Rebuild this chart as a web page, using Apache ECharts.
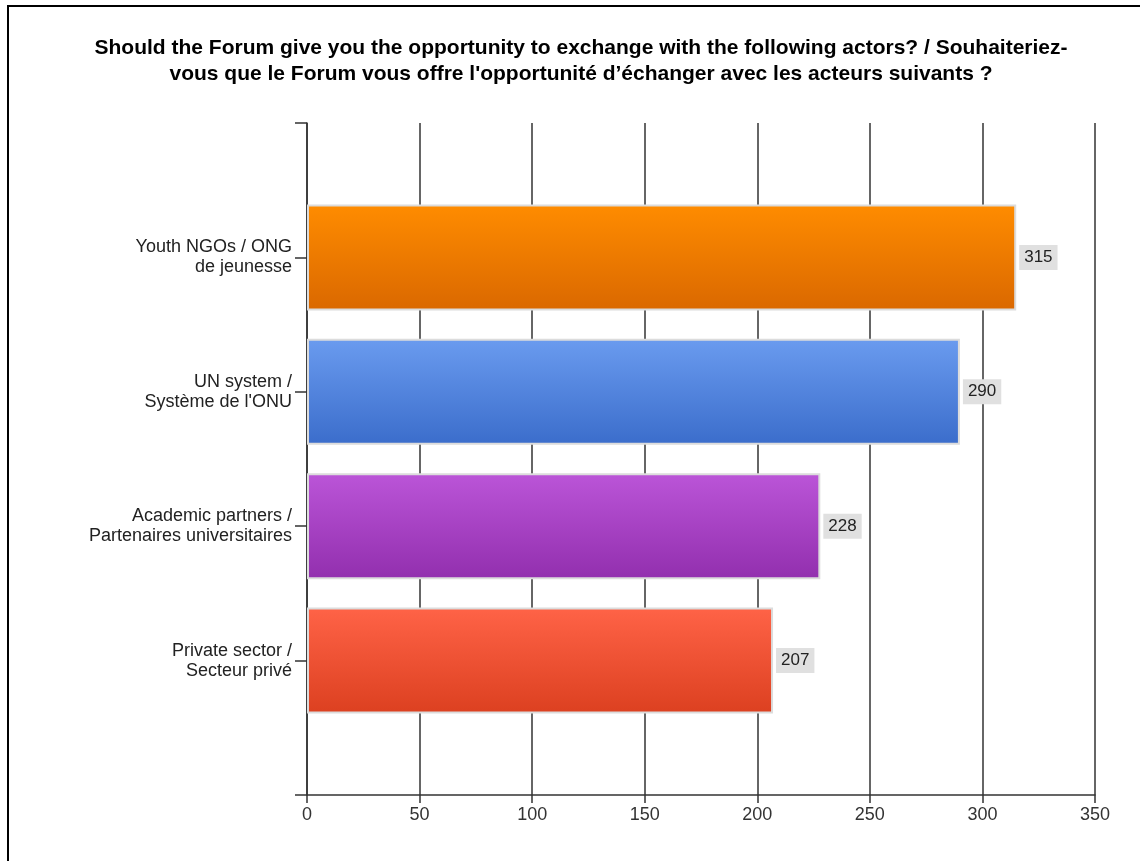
<!DOCTYPE html>
<html>
<head>
<meta charset="utf-8">
<style>
  html, body { margin: 0; padding: 0; background: #ffffff; }
  #chart { width: 1140px; height: 861px; }
</style>
<script src="https://cdn.jsdelivr.net/npm/echarts@6/dist/echarts.min.js"></script>
</head>
<body>
<div id="chart"></div>
<script>
// Survey answers, top to bottom
const categories = [
  'Youth NGOs / ONG\nde jeunesse',
  'UN system /\nSystème de l\'ONU',
  'Academic partners /\nPartenaires universitaires',
  'Private sector /\nSecteur privé'
];
const values = [315, 290, 228, 207];
// Gradient stops per bar: [top, bottom]
const barColors = [
  ['#ff8c00', '#da6800'],
  ['#6a9bef', '#3b6dcb'],
  ['#bb55d8', '#922fae'],
  ['#ff6347', '#dc4020']
];
const xTicks = { min: 0, max: 350, interval: 50 };

const titleText = 'Should the Forum give you the opportunity to exchange with the following actors? / Souhaiteriez-\nvous que le Forum vous offre l\'opportunité d’échanger avec les acteurs suivants ?';

const FONT = 'Liberation Sans, Arial, sans-serif';

// Empty slots above and below so the bars sit between the axis ends
const yData = [''].concat(categories, ['']);
const seriesData = ['-'].concat(values.map((v, i) => ({
  value: v,
  itemStyle: {
    color: new echarts.graphic.LinearGradient(0, 0, 0, 1, [
      { offset: 0, color: barColors[i][0] },
      { offset: 1, color: barColors[i][1] }
    ])
  }
})), ['-']);

const chart = echarts.init(document.getElementById('chart'));
chart.setOption({
  backgroundColor: '#ffffff',
  animation: false,
  graphic: [{
    type: 'rect',
    shape: { x: 8, y: 6, width: 1200, height: 900 },
    style: { fill: 'none', stroke: '#000000', lineWidth: 2 },
    z: 100
  }],
  title: {
    text: titleText,
    left: 576,
    top: 30,
    textAlign: 'center',
    textStyle: {
      fontFamily: FONT,
      fontSize: 21,
      fontWeight: 'bold',
      color: '#000000',
      lineHeight: 26
    }
  },
  grid: { left: 307, right: 45, top: 123, bottom: 66, containLabel: false },
  xAxis: {
    type: 'value',
    min: xTicks.min,
    max: xTicks.max,
    interval: xTicks.interval,
    axisLine: { show: true, lineStyle: { color: '#333333', width: 1.5 } },
    axisTick: { show: true, length: 8, lineStyle: { color: '#333333', width: 1.5 } },
    axisLabel: {
      fontFamily: FONT,
      fontSize: 18,
      color: '#333333',
      margin: 11
    },
    splitLine: { show: true, lineStyle: { color: '#333333', width: 1.5 } }
  },
  yAxis: {
    type: 'category',
    data: yData,
    inverse: true,
    boundaryGap: false,
    axisLine: { show: true, lineStyle: { color: '#333333', width: 1.5 } },
    axisTick: { show: true, length: 12, interval: 0, lineStyle: { color: '#333333', width: 1.5 } },
    axisLabel: {
      interval: 0,
      fontFamily: FONT,
      fontSize: 18,
      color: '#222222',
      lineHeight: 20,
      margin: 15
    },
    splitLine: { show: false }
  },
  series: [{
    type: 'bar',
    data: seriesData,
    barWidth: 106,
    itemStyle: { borderColor: '#dcdcdc', borderWidth: 2 },
    label: {
      show: true,
      position: 'right',
      distance: 3,
      backgroundColor: '#e0e0e0',
      padding: [4, 5, 4, 5],
      fontFamily: FONT,
      fontSize: 17,
      color: '#222222'
    },
    z: 3
  }]
});
</script>
</body>
</html>
